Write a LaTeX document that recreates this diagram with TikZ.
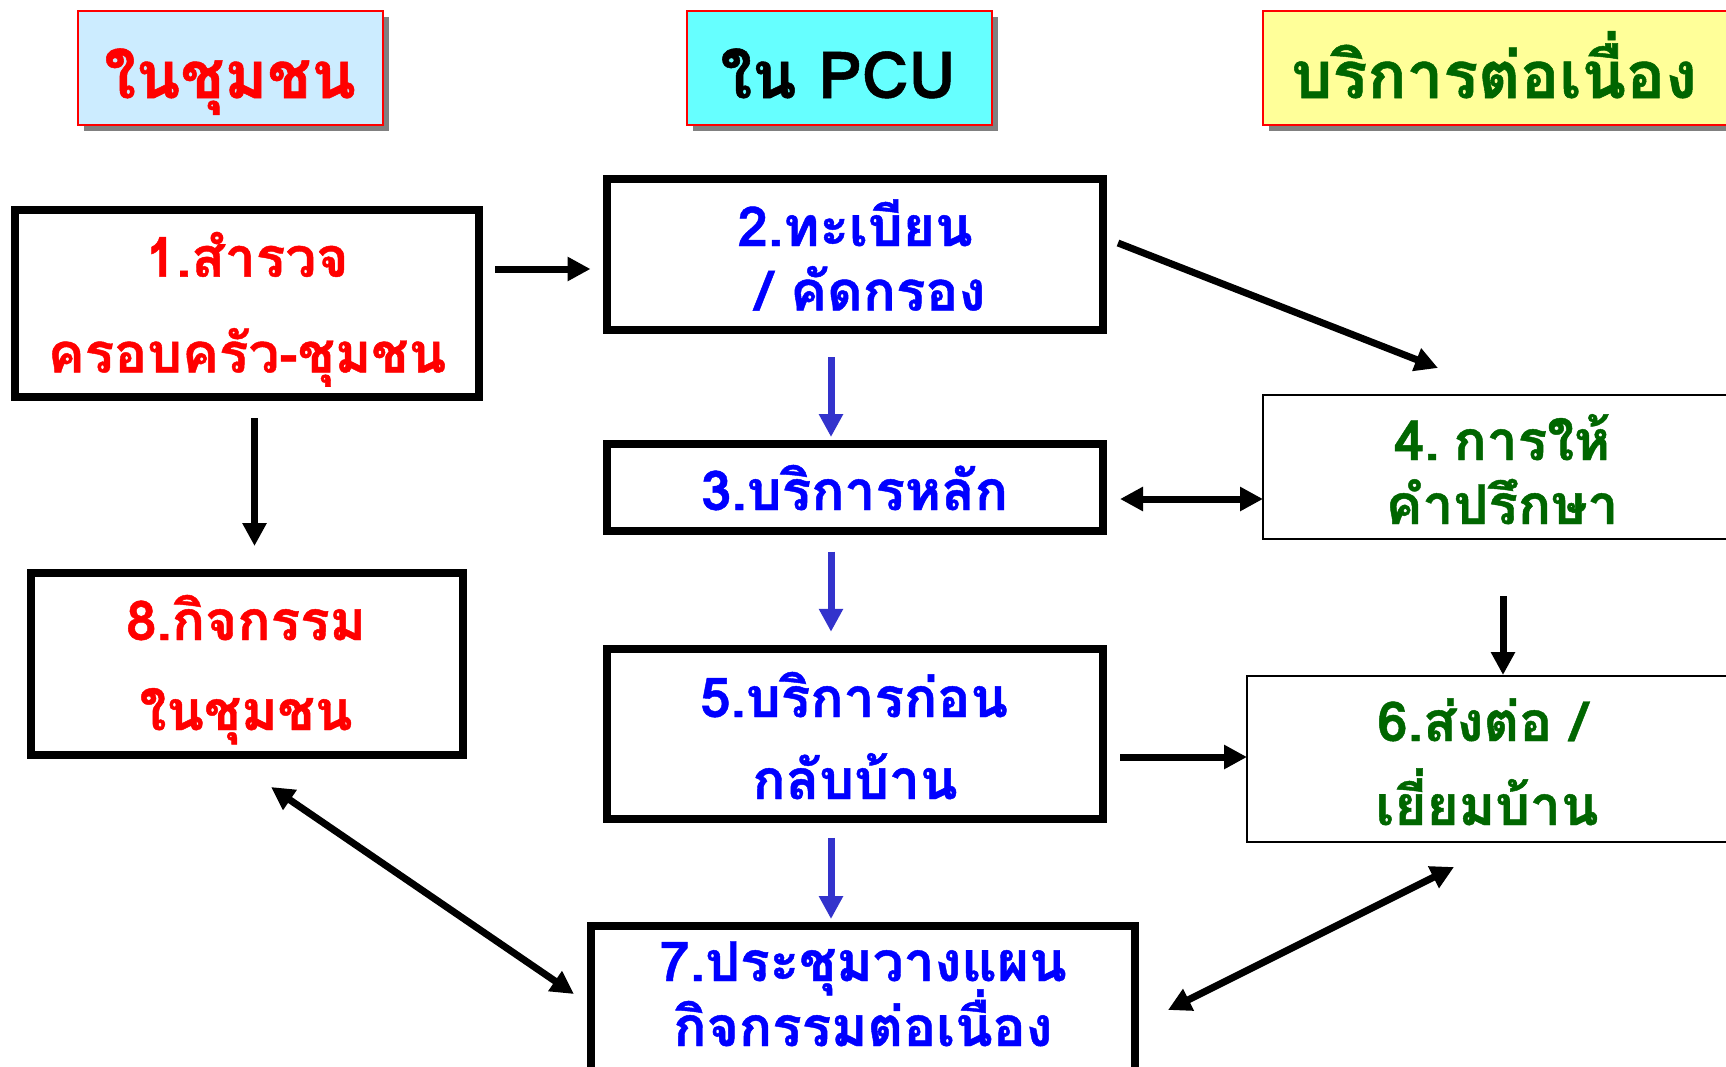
\documentclass[tikz,border=0pt]{standalone}
\usepackage{fontspec}
\newfontfamily\thaifont[Script=Thai, BoldFeatures={FakeBold=0.8}]{Loma}
\usetikzlibrary{arrows.meta,calc}
\definecolor{tred}{HTML}{FF0000}
\definecolor{tblue}{HTML}{0000FF}
\definecolor{tgreen}{HTML}{006600}
\definecolor{ablue}{HTML}{3333CC}
\definecolor{hblue}{HTML}{CCECFF}
\definecolor{hcyan}{HTML}{66FFFF}
\definecolor{hyellow}{HTML}{FFFF99}
\definecolor{shadowgray}{HTML}{808080}
\tikzset{
  thickbox/.style={draw=black, line width=8pt, fill=white, rectangle, inner sep=0pt, outer sep=0pt},
  thinbox/.style={draw=black, line width=2pt, fill=white, rectangle, inner sep=0pt, outer sep=0pt},
  headbox/.style={draw=tred, line width=2pt, rectangle, inner sep=0pt, outer sep=0pt,
     minimum width=305pt, minimum height=114pt},
  headshadow/.style={fill=shadowgray, rectangle, inner sep=0pt, outer sep=0pt,
     minimum width=305pt, minimum height=114pt},
  boxtext/.style={font=\thaifont\bfseries\fontsize{55}{60}\selectfont, anchor=base, inner sep=0pt},
  headtext/.style={font=\thaifont\bfseries\fontsize{65}{70}\selectfont, anchor=base, inner sep=0pt},
  arr/.style={draw=black, line width=7pt, -{Triangle[length=23pt,width=23pt]}},
  darr/.style={draw=black, line width=7pt, {Triangle[length=23pt,width=23pt]}-{Triangle[length=23pt,width=23pt]}},
  barr/.style={draw=ablue, line width=7pt, -{Triangle[length=23pt,width=23pt]}},
}
\begin{document}
\begin{tikzpicture}[x=1pt,y=-1pt]
\useasboundingbox (0,0) rectangle (1726,1066);
\clip (0,0) rectangle (1726,1066);
\fill[white] (0,0) rectangle (1726,1066);

% headers
\node[headshadow] (h1s) at (236.5,74) {};
\node[headbox, fill=hblue] (h1) at (230.5,68) {};
\node[headshadow] (h2s) at (845.5,74) {};
\node[headbox, fill=hcyan] (h2) at (839.5,68) {};
\node[headshadow, minimum width=477pt] (h3s) at (1507.5,74) {};
\node[headbox, fill=hyellow, minimum width=477pt] (h3) at (1501.5,68) {};
\node[headtext, text=tred] (ht1) at (230,98) {ในชุมชน};
\node[headtext, text=black] (ht2) at (838,98) {ใน PCU};
\node[headtext, text=tgreen] (ht3) at (1494,98) {บริการต่อเนื่อง};

% boxes
\node[thickbox, minimum width=464pt, minimum height=187pt] (b1) at (247,303.5) {};
\node[thickbox, minimum width=496pt, minimum height=151pt] (b2) at (855,254) {};
\node[thickbox, minimum width=496pt, minimum height=87pt] (b3) at (855,487) {};
\node[thinbox, minimum width=477pt, minimum height=144pt] (b4) at (1501.5,467) {};
\node[thickbox, minimum width=496pt, minimum height=170.5pt] (b5) at (855,734) {};
\node[thinbox, minimum width=493pt, minimum height=166pt] (b6) at (1493.5,759) {};
\node[thickbox, minimum width=544pt, minimum height=164pt] (b7) at (863,1008) {};
\node[thickbox, minimum width=432pt, minimum height=182pt] (b8) at (247,664) {};

% texts
\node[boxtext, text=tred] (t1a) at (247,276.7) {1.สำรวจ};
\node[boxtext, text=tred] (t1b) at (247,372.4) {ครอบครัว-ชุมชน};
\node[boxtext, text=tblue] (t2a) at (855,246) {2.ทะเบียน};
\node[boxtext, text=tblue] (t2b) at (870.6,310.4) {/ คัดกรอง};
\node[boxtext, text=tblue] (t3) at (854.5,510) {3.บริการหลัก};
\node[boxtext, text=tgreen] (t4a) at (1502,460) {4.\hspace{14pt}การให้};
\node[boxtext, text=tgreen] (t4b) at (1502,524) {คำปรึกษา};
\node[boxtext, text=tblue] (t5a) at (854,717) {5.บริการก่อน};
\node[boxtext, text=tblue] (t5b) at (855,799) {กลับบ้าน};
\node[boxtext, text=tgreen] (t6a) at (1482,741) {6.ส่งต่อ /};
\node[boxtext, text=tgreen] (t6b) at (1487,825) {เยี่ยมบ้าน};
\node[boxtext, text=tblue] (t7a) at (863,981) {7.ประชุมวางแผน};
\node[boxtext, text=tblue] (t7b) at (863,1046) {กิจกรรมต่อเนื่อง};
\node[boxtext, text=tred] (t8a) at (246,640) {8.กิจกรรม};
\node[boxtext, text=tred] (t8b) at (246,730) {ในชุมชน};

% connectors
\draw[arr] ($(b1.east)+(16,-34.5)$) -- ($(b2.west)+(-16.5,15)$);
\draw[arr] ($(b1.south)+(7.5,21)$) -- ($(b8.north)+(7.5,-27)$);
\draw[arr] ($(b2.east)+(15,-11)$) -- ($(b4.north west)+(175,-27)$);
\draw[barr] ($(b2.south)+(-24,27.5)$) -- ($(b3.north)+(-24,-6.5)$);
\draw[darr] ($(b3.east)+(17,12)$) -- ($(b4.west)+(0,32)$);
\draw[barr] ($(b3.south)+(-24,21)$) -- ($(b5.north)+(-24,-17)$);
\draw[arr] ($(b4.south)+(1.5,57)$) -- ($(b6.north)+(9.5,-1)$);
\draw[arr] ($(b5.east)+(17,23)$) -- ($(b6.west)+(0,-2)$);
\draw[barr] ($(b5.south)+(-24,18.5)$) -- ($(b7.north)+(-32,-7)$);
\draw[darr] ($(b8.south)+(24,32)$) -- ($(b7.west)+(-17,-14)$);
\draw[darr] ($(b6.south)+(-39.5,25)$) -- ($(b7.east)+(33,2)$);
\end{tikzpicture}
\end{document}
